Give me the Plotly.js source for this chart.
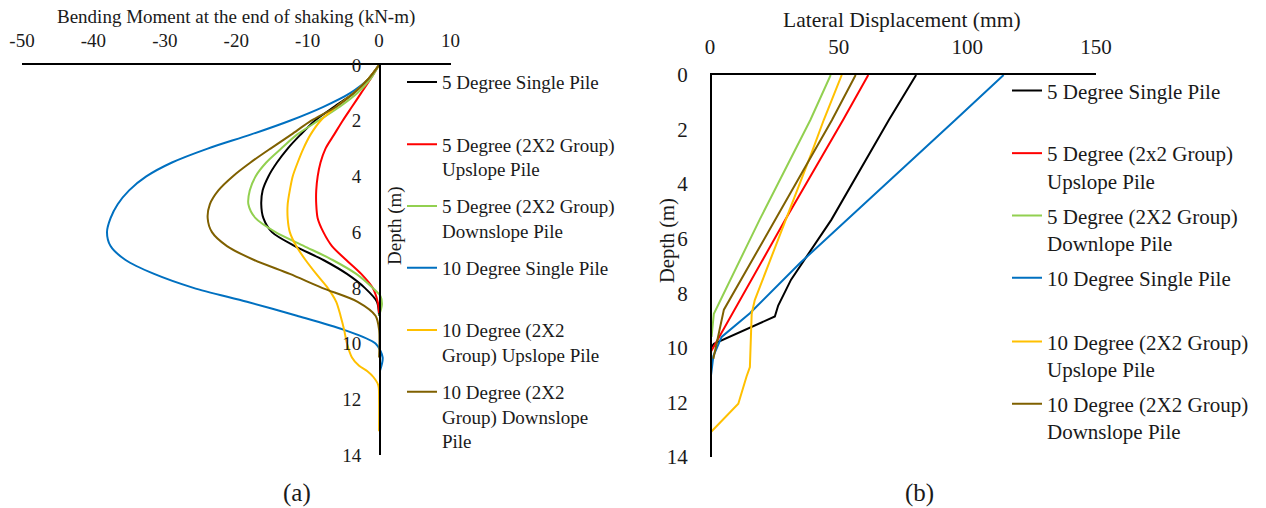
<!DOCTYPE html>
<html>
<head>
<meta charset="utf-8">
<script src="https://cdn.plot.ly/plotly-3.0.1.min.js"></script>
<style>
  html, body { margin: 0; padding: 0; background: #fff; }
  #chart { width: 1266px; height: 508px; }
</style>
</head>
<body>
<div id="chart"></div>
<script>
// ---- Series labels -------------------------------------------------------
const momentNames = [
  '5 Degree Single Pile',
  '5 Degree (2X2 Group)<br>Upslope Pile',
  '5 Degree (2X2 Group)<br>Downslope Pile',
  '10 Degree Single Pile',
  '10 Degree (2X2<br>Group) Upslope Pile',
  '10 Degree (2X2<br>Group) Downslope<br>Pile'
];
const dispNames = [
  '5 Degree Single Pile',
  '5 Degree (2x2 Group)<br>Upslope Pile',
  '5 Degree (2X2 Group)<br>Downlope Pile',
  '10 Degree Single Pile',
  '10 Degree (2X2 Group)<br>Upslope Pile',
  '10 Degree (2X2 Group)<br>Downslope Pile'
];
const seriesColors = ['#000000', '#FF0000', '#92D050', '#0070C0', '#FFC000', '#7F6000'];

// ---- (a) Bending moment at the end of shaking (kN-m) vs depth (m) --------
const bm5SingleDepth  = [0,0.5,1,1.5,2,2.5,3,3.5,4,4.5,5,5.5,6,6.5,7,7.5,8,8.5,9];
const bm5SingleMoment = [0,-1.5,-3.5,-6.3,-9,-11,-12.8,-14.3,-15.5,-16.3,-16.5,-16.2,-15,-11.8,-7.8,-4.5,-2,-0.3,0];

const bm5UpDepth  = [0,0.5,1,1.5,2,2.5,3,3.5,4,4.5,5,5.5,6,6.5,7,7.5,8,8.5,8.9];
const bm5UpMoment = [0,-1.2,-2.5,-3.8,-5.1,-6.3,-7.5,-8.2,-8.6,-8.8,-8.8,-8.6,-7.8,-6.6,-4.6,-2.5,-0.9,-0.2,0];

const bm5DownDepth  = [0,0.5,1,1.5,2,2.5,3,3.5,4,4.5,5,5.5,6,6.5,7,7.5,8,8.3,8.6,9];
const bm5DownMoment = [0,-1.2,-3,-5.5,-8.5,-11.5,-13.7,-15.8,-17.3,-18.1,-18.3,-17.3,-14.5,-10.5,-6.5,-3.2,-0.9,0.2,0.4,0];

const bm10SingleDepth  = [0,0.5,1,1.5,2,2.5,3,3.5,4,4.5,5,5.5,6,6.5,7,7.5,8,8.5,9,9.5,10,10.5,11];
const bm10SingleMoment = [0,-1.5,-4,-7.8,-12.5,-18,-24,-29,-32.6,-35,-36.6,-37.6,-38.1,-37.6,-35.5,-31.5,-26,-18.5,-11.5,-5,-0.5,0.5,0.1];

const bm10UpDepth  = [0,0.5,1,1.5,2,2.5,3,3.5,4,4.5,5,5.5,6,6.5,7,7.5,8,8.5,9,9.5,10,10.5,10.8,11,11.2,11.5,12,13.15];
const bm10UpMoment = [0,-1.5,-3.5,-6,-8.2,-9.6,-10.6,-11.4,-12.1,-12.5,-12.8,-12.8,-12.5,-11.6,-10.3,-8.8,-7.2,-6,-5.4,-4.9,-4.5,-3.8,-2.8,-1.6,-0.8,-0.1,0,0];

const bm10DownDepth  = [0,0.5,1,1.5,2,2.5,3,3.5,4,4.5,5,5.5,6,6.5,7,7.5,8,8.5,9,9.5,10.5];
const bm10DownMoment = [0,-1.5,-3.5,-6,-9.5,-12.3,-15.2,-18,-20.5,-22.5,-23.7,-24,-23.4,-21.3,-17.5,-12.5,-8,-3,-0.5,0,0];

// ---- (b) Lateral displacement (mm) vs depth (m) --------------------------
const ld5SingleDepth = [0,1.65,5.3,7.5,8.45,8.85,9.85,10.05];
const ld5SingleDisp  = [80.1,69.5,47.2,31.5,26.5,25.2,1.5,0];

const ld5UpDepth = [0,1.65,5.3,10.2];
const ld5UpDisp  = [61.5,51.7,29.3,0];

const ld5DownDepth = [0,1.65,5.3,8.5,8.75,9.6];
const ld5DownDisp  = [46.9,39,19.3,2.6,1.5,0.6];

const ld10SingleDepth = [0,1.65,6.9,8.73,9.6,10.3,11.0];
const ld10SingleDisp  = [114.1,95.3,34.9,15.5,4.5,1.3,0.4];

const ld10UpDepth = [0,1.65,2.87,5.56,7.5,8.25,8.75,10,10.7,11.05,12.05,13.12];
const ld10UpDisp  = [51.2,44.2,39.4,28.4,20.7,17.4,16.2,15.8,15.5,14.2,11,0];

const ld10DownDepth = [0,1.65,5.3,8.6,10.4];
const ld10DownDisp  = [56.6,47.4,25.4,5.4,1.3];

// ---- Axis ticks ----------------------------------------------------------
const momentTicks     = [-50,-40,-30,-20,-10,0,10];
const momentTickText  = ['-50','-40','-30','-20','-10','0','10'];
const dispTicks       = [0,50,100,150];
const depthTicks      = [0,2,4,6,8,10,12,14];

// ---- Page geometry (pixels) ----------------------------------------------
const W = 1266, H = 508;
const fx = p => p / W;
const fy = p => 1 - p / H;

const FONT = 'Liberation Serif, Times New Roman, serif';
const TXT = '#1a1a1a';

const aX = [22, 450.5], aY = [65, 455];    // panel (a) plot box
const bX = [710, 1096], bY = [75, 457];    // panel (b) plot box
const momentRange = [-50, 10];
const zeroPos = fx(aX[0] + (0 - momentRange[0]) / (momentRange[1] - momentRange[0]) * (aX[1] - aX[0]));

const momentSets = [
  [bm5SingleMoment, bm5SingleDepth],
  [bm5UpMoment, bm5UpDepth],
  [bm5DownMoment, bm5DownDepth],
  [bm10SingleMoment, bm10SingleDepth],
  [bm10UpMoment, bm10UpDepth],
  [bm10DownMoment, bm10DownDepth]
];
const dispSets = [
  [ld5SingleDisp, ld5SingleDepth],
  [ld5UpDisp, ld5UpDepth],
  [ld5DownDisp, ld5DownDepth],
  [ld10SingleDisp, ld10SingleDepth],
  [ld10UpDisp, ld10UpDepth],
  [ld10DownDisp, ld10DownDepth]
];

// first-line centre of every legend entry (pixels from top)
const legendARows = [82.7, 145, 206.7, 268.3, 330.7, 392.3];
const legendBRows = [91.7, 154.3, 216.7, 279, 342.7, 405];
const legendAX = 402, legendBX = 1007;
const legOffA = 19.5, legOffB = 21.3;

const traces = [];
const layout = {
  width: W, height: H,
  margin: {l: 0, r: 0, t: 0, b: 0},
  paper_bgcolor: '#ffffff',
  plot_bgcolor: 'rgba(0,0,0,0)',
  font: {family: FONT, color: TXT},
  showlegend: true,
  annotations: []
};

momentSets.forEach((s, i) => {
  const lg = i === 0 ? 'legend' : 'legend' + (i + 1);
  traces.push({
    type: 'scatter', mode: 'lines',
    x: s[0], y: s[1], xaxis: 'x', yaxis: 'y',
    name: momentNames[i], legend: lg,
    line: {color: seriesColors[i], width: 2, shape: 'spline', smoothing: 0.8}
  });
  layout[lg] = {
    x: fx(legendAX), y: fy(legendARows[i] - legOffA),
    xanchor: 'left', yanchor: 'top', valign: 'top',
    bgcolor: 'rgba(0,0,0,0)', borderwidth: 0,
    font: {family: FONT, size: 19, color: TXT}
  };
});

dispSets.forEach((s, i) => {
  const lg = 'legend' + (i + 7);
  traces.push({
    type: 'scatter', mode: 'lines',
    x: s[0], y: s[1], xaxis: 'x2', yaxis: 'y2',
    name: dispNames[i], legend: lg,
    line: {color: seriesColors[i], width: 2}
  });
  layout[lg] = {
    x: fx(legendBX), y: fy(legendBRows[i] - legOffB),
    xanchor: 'left', yanchor: 'top', valign: 'top',
    bgcolor: 'rgba(0,0,0,0)', borderwidth: 0,
    font: {family: FONT, size: 21, color: TXT}
  };
});

const axisCommon = {
  showgrid: false, zeroline: false, showline: true,
  linecolor: '#000000', linewidth: 1.6, ticks: '',
  tickmode: 'array', fixedrange: true
};

layout.xaxis = Object.assign({}, axisCommon, {
  domain: [fx(aX[0]), fx(aX[1])], range: momentRange,
  side: 'top', anchor: 'y', tickvals: momentTicks, ticktext: momentTickText,
  ticklabelstandoff: 9,
  tickfont: {family: FONT, size: 19, color: TXT}
});
layout.yaxis = Object.assign({}, axisCommon, {
  domain: [fy(aY[1]), fy(aY[0])], range: [14, 0],
  anchor: 'free', position: zeroPos, tickvals: depthTicks,
  ticklabelstandoff: 14,
  tickfont: {family: FONT, size: 19, color: TXT}
});
layout.xaxis2 = Object.assign({}, axisCommon, {
  domain: [fx(bX[0]), fx(bX[1])], range: [0, 150],
  side: 'top', anchor: 'y2', tickvals: dispTicks,
  ticklabelstandoff: 11,
  tickfont: {family: FONT, size: 21, color: TXT}
});
layout.yaxis2 = Object.assign({}, axisCommon, {
  domain: [fy(bY[1]), fy(bY[0])], range: [14, 0],
  anchor: 'free', position: fx(bX[0]), tickvals: depthTicks,
  ticklabelstandoff: 18,
  tickfont: {family: FONT, size: 21, color: TXT}
});

// titles and panel tags
const note = (text, x, y, size, angle) => ({
  text: text, xref: 'paper', yref: 'paper', x: fx(x), y: fy(y),
  xanchor: 'center', yanchor: 'middle', showarrow: false,
  textangle: angle || 0, font: {family: FONT, size: size, color: TXT}
});
layout.annotations.push(
  note('Bending Moment at the end of shaking (kN-m)', 236, 17, 19),
  note('Depth (m)', 395, 226, 19, -90),
  note('Lateral Displacement (mm)', 902, 20, 21.5),
  note('Depth (m)', 667, 241, 20.5, -90),
  note('(a)', 297, 493, 25),
  note('(b)', 919, 493, 25)
);

Plotly.newPlot('chart', traces, layout, {staticPlot: true, displayModeBar: false});
</script>
</body>
</html>
